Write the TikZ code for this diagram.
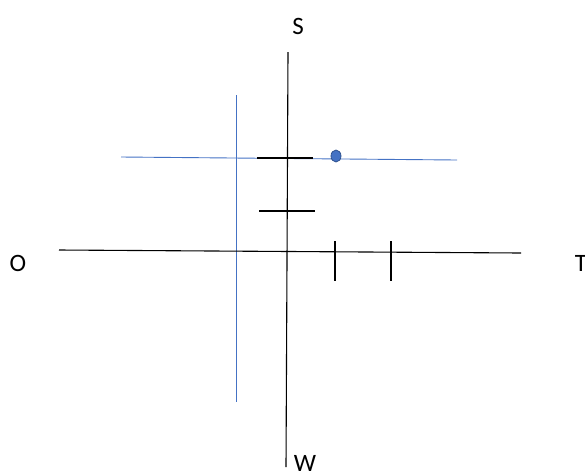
\documentclass[tikz,border=0pt]{standalone}
\usepackage{fontspec}
\setmainfont{Carlito}
\usetikzlibrary{shapes.geometric}
\definecolor{axisblue}{HTML}{4472C4}
\definecolor{dotedge}{HTML}{2F528F}
\tikzset{
  axisline/.style={draw=black, line width=1.1pt},
  blueline/.style={draw=axisblue, line width=0.9pt},
  lbl/.style={font=\fontsize{25}{30}\selectfont, inner sep=0pt, anchor=center},
}
\begin{document}
\begin{tikzpicture}[x=1pt, y=-1pt]
\useasboundingbox (0,0) rectangle (585,472);
% coordinates
\coordinate (vtop) at (288,52);
\coordinate (vbot) at (286,467);
\coordinate (hleft) at (59,250);
\coordinate (hright) at (521,253);
\coordinate (bvtop) at (236,95);
\coordinate (bvbot) at (236,402);
\coordinate (bhl) at (121,157);
\coordinate (bhr) at (457,160);
\coordinate (s1l) at (257,158);
\coordinate (s1r) at (313,158);
\coordinate (s2l) at (259,211);
\coordinate (s2r) at (315,211);
\coordinate (t1t) at (335,241);
\coordinate (t1b) at (335,281);
\coordinate (t2t) at (391,241);
\coordinate (t2b) at (391,281);
% labels
\node[lbl] (S) at (298,26) {S};
\node[lbl] (O) at (18,263) {O};
\node[lbl] (T) at (581,263) {T};
\node[lbl] (W) at (305,463) {W};
% blue lines
\draw[blueline] (bvtop) -- (bvbot);
\draw[blueline] (bhl) -- (bhr);
% axes
\draw[axisline] (vtop) -- (vbot);
\draw[axisline] (hleft) -- (hright);
% short bars
\draw[axisline] (s1l) -- (s1r);
\draw[axisline] (s2l) -- (s2r);
\draw[axisline] (t1t) -- (t1b);
\draw[axisline] (t2t) -- (t2b);
% dot
\node[draw=dotedge, fill=axisblue, ellipse, minimum width=10pt, minimum height=12pt, inner sep=0pt, line width=0.8pt] (dot) at (336,156) {};
\end{tikzpicture}
\end{document}
